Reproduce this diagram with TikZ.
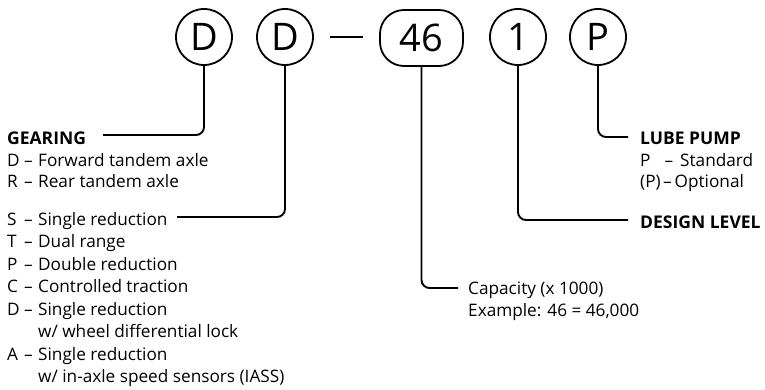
\documentclass[tikz,border=0pt]{standalone}
\usepackage{fontspec}
\setmainfont{Open Sans}
\newcommand\codelbl[1]{\makebox[17pt][l]{#1}\makebox[14pt][l]{–}}
\begin{document}
\begin{tikzpicture}[x=1pt,y=-1pt,
  conn/.style={line width=1.9pt, rounded corners=8pt},
  code/.style={circle, draw, line width=1.8pt, minimum size=56pt, inner sep=0pt, font=\fontsize{38}{38}\selectfont},
  item/.style={anchor=base west, inner sep=0pt, font=\fontsize{17.2}{17.2}\selectfont},
  head/.style={anchor=base west, inner sep=0pt, font=\fontsize{17.5}{17.5}\selectfont\bfseries}]
\useasboundingbox (0,0) rectangle (765,390);
% code letters
\node[code] (d1) at (204,37) {D};
\node[code] (d2) at (285,37) {D};
\coordinate (dashA) at (330,37);
\coordinate (dashB) at (363,37);
\draw[line width=1.9pt] (dashA) -- (dashB);
\node[code, rectangle, rounded corners=24pt, minimum width=83pt] (cap) at (421.5,38) {46};
\node[code] (lvl) at (518,37) {1};
\node[code] (pmp) at (598,37) {P};
% left texts
\node[head] (gear) at (7,145) {GEARING};
\node[item] (g1) at (7,167) {\codelbl{D}Forward tandem axle};
\node[item] (g2) at (7,187) {\codelbl{R}Rear tandem axle};
\node[item] (r1) at (7,225) {\codelbl{S}Single reduction};
\node[item] (r2) at (7,247.5) {\codelbl{T}Dual range};
\node[item] (r3) at (7,270) {\codelbl{P}Double reduction};
\node[item] (r4) at (7,292.5) {\codelbl{C}Controlled traction};
\node[item] (r5) at (7,315) {\codelbl{D}Single reduction};
\node[item] (r5b) at (38,337.5) {w/ wheel differential lock};
\node[item] (r6) at (7,360) {\codelbl{A}Single reduction};
\node[item] (r6b) at (38,382.5) {w/ in-axle speed sensors (IASS)};
% right texts
\node[head] (lube) at (640,145) {LUBE PUMP};
\node[item] (l1) at (640,167) {\makebox[24.5pt][l]{P}\makebox[15.5pt][l]{–}Standard};
\node[item] (l2) at (640,188) {\makebox[23pt][l]{(P)}\makebox[11.5pt][l]{–}Optional};
\node[head] (dl) at (640,228) {DESIGN LEVEL};
\node[item] (c1) at (468,294) {Capacity (x 1000)};
\node[item] (c2) at (468,316) {Example: 46 = 46,000};
% connectors
\coordinate (gEnd) at (103,135);
\draw[conn] (d1.south) |- (gEnd);
\coordinate (sEnd) at (177,217);
\draw[conn] (d2.south) |- (sEnd);
\coordinate (cEnd) at (458,288);
\draw[conn] (cap.south) |- (cEnd);
\coordinate (lEnd) at (628,220);
\draw[conn] (lvl.south) |- (lEnd);
\coordinate (pEnd) at (628,137);
\draw[conn] (pmp.south) |- (pEnd);
\end{tikzpicture}
\end{document}
